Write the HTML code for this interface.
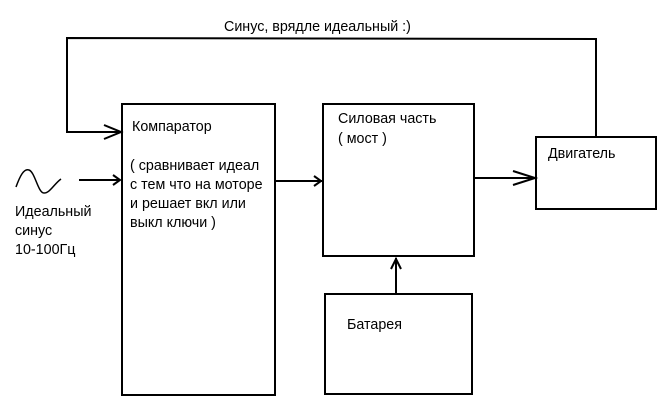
<!DOCTYPE html>
<html><head><meta charset="utf-8"><style>
html,body{margin:0;padding:0;background:#fff;width:670px;height:410px;overflow:hidden}
svg text{font-family:"Liberation Sans","DejaVu Sans",sans-serif;font-size:14.3px;fill:#000}
</style></head><body>
<svg width="670" height="410" viewBox="0 0 670 410" xmlns="http://www.w3.org/2000/svg">
<g fill="none" stroke="#000" stroke-width="2">
<rect x="122" y="104" width="153" height="291"/>
<rect x="323" y="104" width="151" height="152"/>
<rect x="536" y="137" width="120" height="72"/>
<rect x="325" y="294" width="147" height="100"/>
<polyline points="596,137 596,39 67,38 67,132 120,132" stroke-width="2"/>
<polyline points="104,125 121,132 104,139"/>
<line x1="79" y1="180" x2="120" y2="180" stroke-width="2"/>
<polyline points="113,175 120,180 113,185"/>
<line x1="276" y1="181" x2="322" y2="181"/>
<polyline points="314,176 321,181 314,186"/>
<line x1="475" y1="178" x2="535" y2="178"/>
<polyline points="513,171 535,178 513,185"/>
<line x1="396" y1="293" x2="396" y2="258"/>
<polyline points="391,269 396,259 401,269"/>
<path d="M16,187 C20,176 24,168 29,170 C35,172 38,193 44,193 C50,193 54,184 61,179" stroke-width="1.5"/>
</g>
<text x="224" y="31">Синус, врядле идеальный :)</text>
<text x="132" y="131">Компаратор</text>
<text x="130" y="170">( сравнивает идеал</text>
<text x="130" y="189">с тем что на моторе</text>
<text x="130" y="208">и решает вкл или</text>
<text x="130" y="227">выкл ключи )</text>
<text x="338" y="123">Силовая часть</text>
<text x="338" y="143">( мост )</text>
<text x="548" y="158">Двигатель</text>
<text x="347" y="329">Батарея</text>
<text x="15" y="216">Идеальный</text>
<text x="15" y="235">синус</text>
<text x="15" y="254">10-100Гц</text>
</svg>
</body></html>
